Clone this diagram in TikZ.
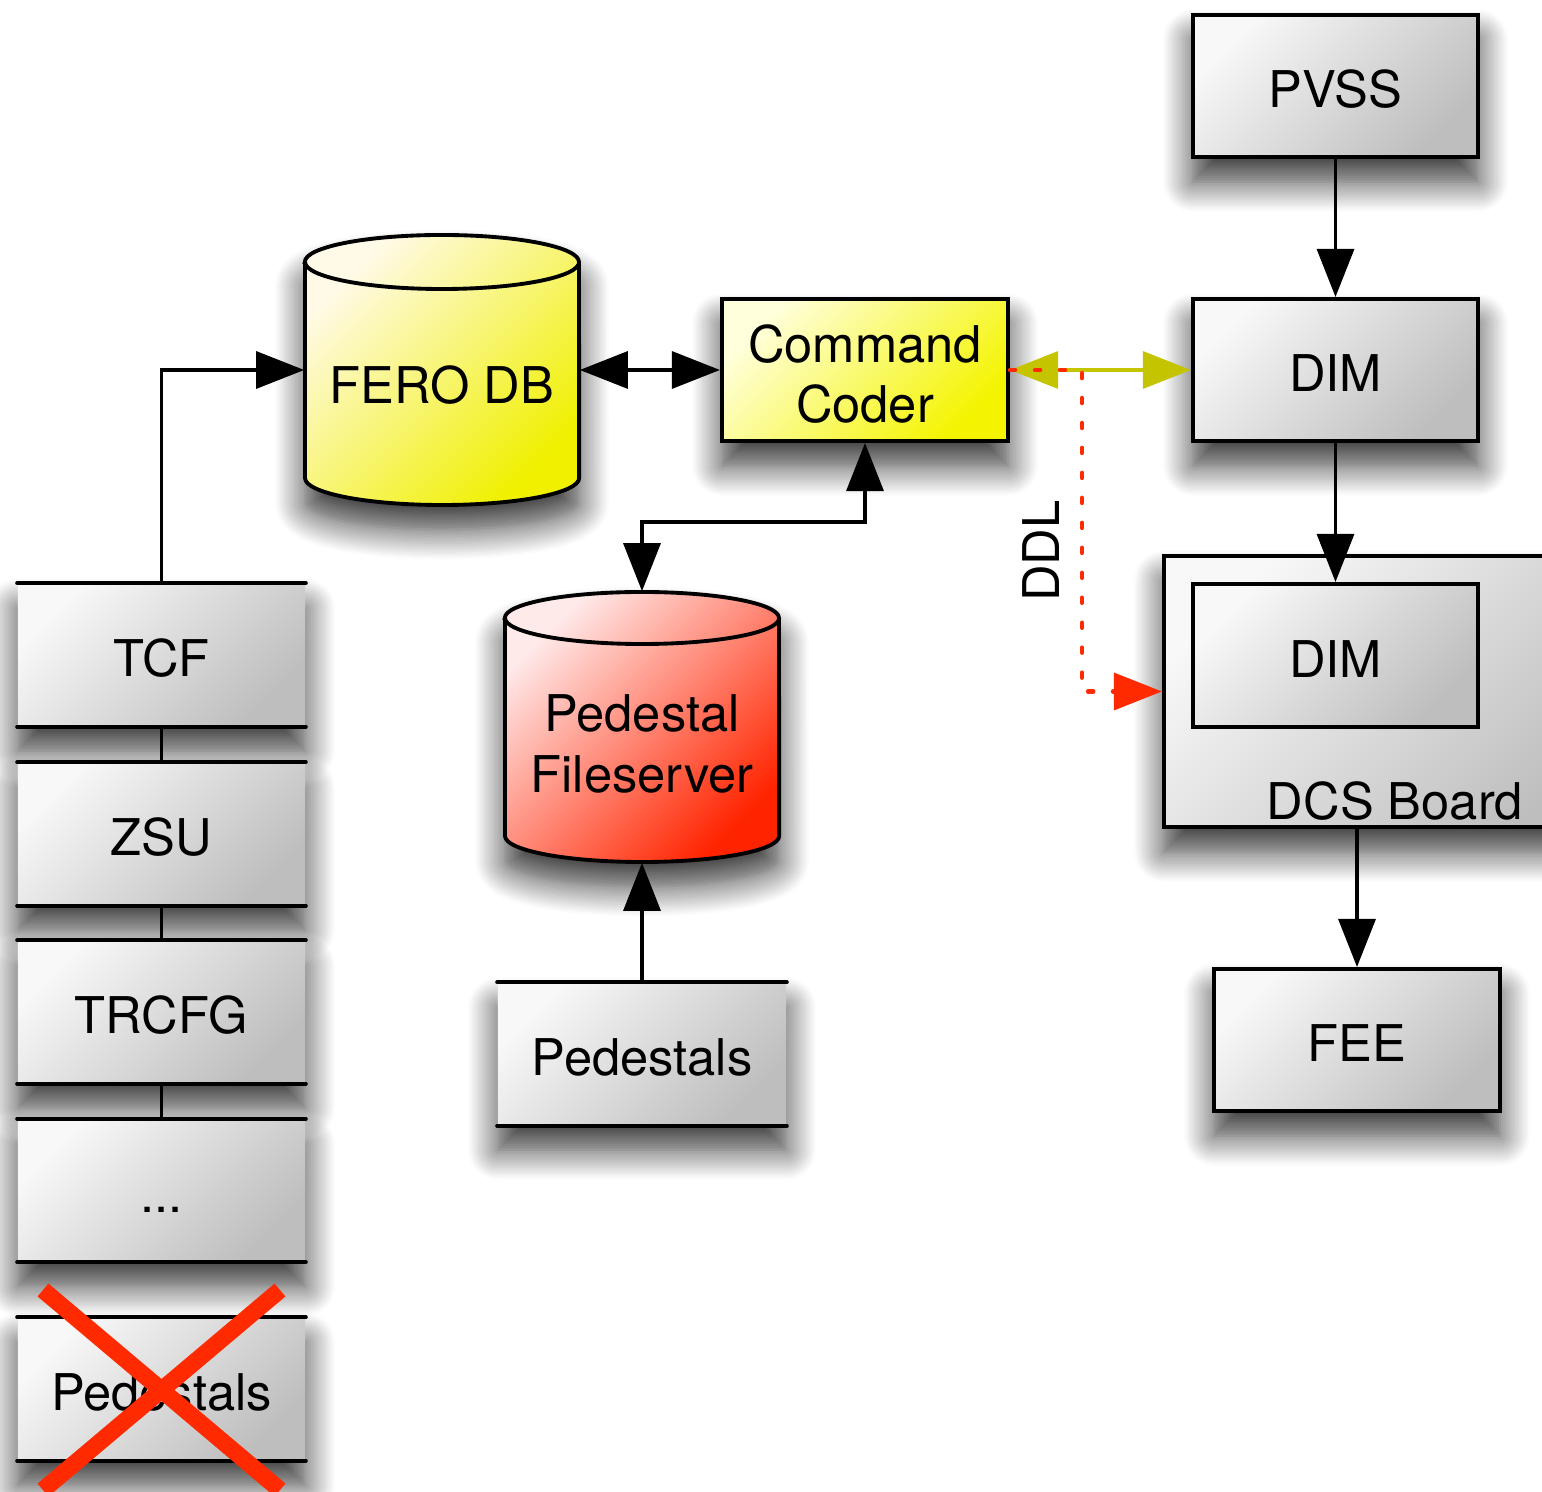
\documentclass[tikz,border=0pt]{standalone}
\usepackage{fontspec}
\setmainfont{TeX Gyre Heros}
\usetikzlibrary{arrows.meta, shadows.blur}

\definecolor{gLight}{HTML}{F8F8F8}
\definecolor{gDark}{HTML}{BEBEBE}
\definecolor{yLight}{HTML}{FFFAE8}
\definecolor{yDark}{HTML}{F0F000}
\definecolor{cLight}{HTML}{FFFFDC}
\definecolor{cDark}{HTML}{F4F400}
\definecolor{rLight}{HTML}{FFEAEA}
\definecolor{rDark}{HTML}{FF2400}
\definecolor{olive}{HTML}{C4C400}
\definecolor{ddlred}{HTML}{FF2A00}

\begin{document}
\begin{tikzpicture}[x=0.01cm, y=-0.01cm,
  >={Triangle[length=13.7pt, width=10.5pt]},
  txt/.style={font=\fontsize{14.4}{17.2}\selectfont, text height=12.5pt, text depth=0pt},
  mtxt/.style={font=\fontsize{14.4}{17.2}\selectfont, align=center, inner sep=0pt},
  shadowed/.style={blur shadow={shadow xshift=0pt, shadow yshift=-7pt, shadow blur radius=8.5pt, shadow blur steps=14, shadow opacity=80}},
  grayfill/.style={top color=gLight, bottom color=gDark, shading angle=45},
  graybox/.style={draw=black, line width=1.1pt, grayfill, shadowed, inner sep=0pt,
    minimum width=2.85cm, minimum height=1.42cm, txt},
  stackbox/.style={grayfill, shadowed, inner sep=0pt, minimum width=2.87cm, minimum height=1.42cm, txt},
  stackline/.style={line width=1.15pt, line cap=round},
  conn/.style={line width=1.1pt, draw=black},
  cylout/.style={draw=black, line width=1.1pt, shadowed},
  anchorbox/.style={inner sep=0pt, minimum width=2.74cm, minimum height=2.70cm},
]
\useasboundingbox (0,0) rectangle (1542,1492);

% ---------- right column ----------
\node[graybox] (pvss) at (1335.5,86) {PVSS};
\node[graybox] (dim1) at (1335.5,370) {DIM};
\node[graybox, minimum width=4.62cm, minimum height=2.71cm, text height=, text depth=] (dcs) at (1395,691.5) {};
\node[draw=black, line width=1.1pt, grayfill, inner sep=0pt, minimum width=2.85cm, minimum height=1.43cm, txt] (dim2) at (1335.5,655.5) {DIM};
\node[txt, text height=, text depth=, anchor=base, inner sep=0pt] (dcstext) at (1395,820) {DCS Board};
\node[graybox, minimum width=2.86cm] (fee) at (1357,1040) {FEE};

% ---------- command coder ----------
\node[graybox, minimum width=2.86cm, top color=cLight, bottom color=cDark, shading angle=45, text height=, text depth=] (cc) at (865,370) {};
\node[mtxt] (cctext) at (865,374) {Command\\Coder};

% ---------- FERO DB cylinder ----------
\path[cylout, top color=yLight, bottom color=yDark, shading angle=45]
  (305,262) -- (305,478) arc[start angle=180, end angle=360, x radius=1.37cm, y radius=0.27cm]
  -- (579,262) arc[start angle=0, end angle=180, x radius=1.37cm, y radius=0.27cm] -- cycle;
\draw[line width=1.1pt] (305,262) arc[start angle=180, end angle=360, x radius=1.37cm, y radius=0.27cm];
\node[anchorbox] (fero) at (442,370) {};
\node[txt, inner sep=0pt] (ferotext) at (442,382) {FERO DB};

% ---------- Pedestal Fileserver cylinder ----------
\path[cylout, top color=rLight, bottom color=rDark, shading angle=45]
  (505,618) -- (505,836) arc[start angle=180, end angle=360, x radius=1.37cm, y radius=0.26cm]
  -- (779,618) arc[start angle=0, end angle=180, x radius=1.37cm, y radius=0.26cm] -- cycle;
\draw[line width=1.1pt] (505,618) arc[start angle=180, end angle=360, x radius=1.37cm, y radius=0.26cm];
\node[anchorbox] (pfs) at (642,727) {};
\node[mtxt] (pfstext) at (642,744) {Pedestal\\Fileserver};

% ---------- pedestals (center) ----------
\node[stackbox, minimum width=2.88cm] (ped) at (642,1054) {Pedestals};

% ---------- left stack ----------
\node[stackbox] (tcf) at (161.5,655) {TCF};
\node[stackbox] (zsu) at (161.5,834) {ZSU};
\node[stackbox] (trcfg) at (161.5,1012) {TRCFG};
\node[stackbox] (dots) at (161.5,1190.5) {...};
\node[stackbox] (pedx) at (161.5,1389) {Pedestals};

\foreach \n in {ped,tcf,zsu,trcfg,dots,pedx}
  \draw[stackline] (\n.north west) -- (\n.north east) (\n.south west) -- (\n.south east);

% ---------- connectors ----------
\draw[conn] (tcf.south) -- (zsu.north);
\draw[conn] (zsu.south) -- (trcfg.north);
\draw[conn] (trcfg.south) -- (dots.north);
\draw[conn, ->] (tcf.north) |- (fero.west);
\draw[conn, <->] (fero.east) -- (cc.west);
\draw[conn, <->] (cc.south) -- ++(0,79) -| (pfs.north);
\draw[conn, ->] (ped.north) -- (pfs.south);
\draw[conn, ->] (pvss.south) -- (dim1.north);
\draw[conn, ->] (dim1.south) -- (dim2.north);
\draw[conn, ->] (dcs.south -| fee.north) -- (fee.north);

\draw[line width=1.1pt, draw=olive, {Triangle[length=13.7pt, width=10.5pt, fill=olive]}-{Triangle[length=13.7pt, width=10.5pt, fill=olive]}] (cc.east) -- (dim1.west);

\coordinate (ddlbend) at (1082,370);
\draw[ddlred, line width=1.2pt, line cap=round, dash pattern=on 1.5pt off 5.6pt,
  -{Triangle[length=13.7pt, width=10.5pt, fill=ddlred]}] (cc.east) -- (ddlbend) |- (dcs.west);
\node[txt, rotate=90, inner sep=0pt] (ddl) at (1038,551) {DDL};

% ---------- red cross ----------
\draw[ddlred, line width=4.8pt] (43,1290) -- (280,1490) (280,1290) -- (43,1490);
\end{tikzpicture}
\end{document}
